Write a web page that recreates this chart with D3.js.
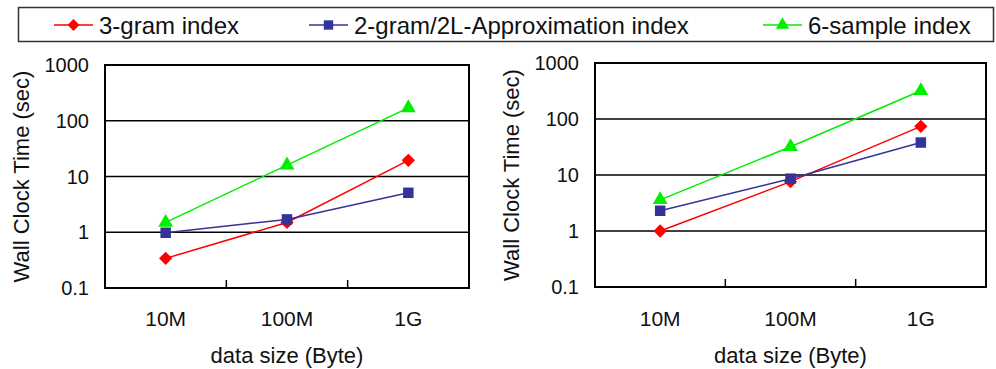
<!DOCTYPE html>
<html>
<head>
<meta charset="utf-8">
<script src="https://cdn.jsdelivr.net/npm/d3@7"></script>
<style>
  body { margin: 0; background: #fff; }
  svg text { font-family: "Liberation Sans", Arial, sans-serif; fill: #111; }
</style>
</head>
<body>
<div id="chart"></div>
<script>
// Data
const sizes = ["10M", "100M", "1G"];
const yTicks = [0.1, 1, 10, 100, 1000];
const seriesNames = ["3-gram index", "2-gram/2L-Approximation index", "6-sample index"];

const leftTrigram = [0.34, 1.5, 19.5];
const leftTwoGram = [0.98, 1.7, 5.1];
const leftSample = [1.5, 16, 170];

const rightTrigram = [1.0, 7.6, 74];
const rightTwoGram = [2.3, 8.6, 38];
const rightSample = [3.6, 32, 320];

const colors = ["#ff0000", "#333399", "#00ee00"];
// diamond is a square turned 45 degrees
const markers = [d3.symbolSquare, d3.symbolSquare, d3.symbolTriangle];
const markerRotate = [45, 0, 0];
const markerSizes = [88, 110, 95];

const svg = d3.select("#chart")
  .append("svg")
  .attr("width", 996)
  .attr("height", 369);

// Legend box
svg.append("rect")
  .attr("x", 18.5).attr("y", 7.5)
  .attr("width", 975).attr("height", 34)
  .attr("fill", "#fff")
  .attr("stroke", "#333")
  .attr("stroke-width", 1.5);

const legendX = [54, 309, 763];
seriesNames.forEach((name, i) => {
  const g = svg.append("g").attr("transform", `translate(${legendX[i]},25)`);
  g.append("line")
    .attr("x1", 0).attr("x2", 39)
    .attr("stroke", colors[i]).attr("stroke-width", 1.5);
  g.append("path")
    .attr("transform", `translate(19.5,0) rotate(${markerRotate[i]})`)
    .attr("d", d3.symbol().type(markers[i]).size(markerSizes[i] * 0.8)())
    .attr("fill", colors[i]);
  g.append("text")
    .attr("x", 45).attr("y", 0)
    .attr("dy", "0.36em")
    .style("font-size", "24px")
    .text(name);
});

function drawPanel(box, series) {
  const x = d3.scaleBand().domain(sizes).range([box.left, box.right]);
  const y = d3.scaleLog().domain([0.1, 1000]).range([box.bottom, box.top]);

  // Horizontal grid lines
  svg.append("g")
    .selectAll("line")
    .data(yTicks.slice(1, -1))
    .join("line")
    .attr("x1", box.left).attr("x2", box.right)
    .attr("y1", (d) => y(d)).attr("y2", (d) => y(d))
    .attr("stroke", "#000").attr("stroke-width", 1.5);

  // Plot frame
  svg.append("rect")
    .attr("x", box.left).attr("y", box.top)
    .attr("width", box.right - box.left)
    .attr("height", box.bottom - box.top)
    .attr("fill", "none")
    .attr("stroke", "#000").attr("stroke-width", 2);

  // Inner ticks between categories
  svg.append("g")
    .selectAll("line")
    .data(sizes.slice(1))
    .join("line")
    .attr("x1", (d) => x(d)).attr("x2", (d) => x(d))
    .attr("y1", box.bottom).attr("y2", box.bottom - 8)
    .attr("stroke", "#000").attr("stroke-width", 1.5);

  // Y tick labels
  svg.append("g")
    .selectAll("text")
    .data(yTicks)
    .join("text")
    .attr("x", box.left - 16)
    .attr("y", (d) => y(d))
    .attr("dy", "0.36em")
    .attr("text-anchor", "end")
    .style("font-size", "20px")
    .text((d) => d3.format("~g")(d));

  // X tick labels
  svg.append("g")
    .selectAll("text")
    .data(sizes)
    .join("text")
    .attr("x", (d) => x(d) + x.bandwidth() / 2)
    .attr("y", 318)
    .attr("dy", "0.36em")
    .attr("text-anchor", "middle")
    .style("font-size", "21px")
    .text((d) => d);

  // Axis titles
  svg.append("text")
    .attr("x", (box.left + box.right) / 2)
    .attr("y", 355)
    .attr("dy", "0.36em")
    .attr("text-anchor", "middle")
    .style("font-size", "22px")
    .text("data size (Byte)");

  svg.append("text")
    .attr("transform", `translate(${box.left - 84},${(box.top + box.bottom) / 2}) rotate(-90)`)
    .attr("dy", "0.36em")
    .attr("text-anchor", "middle")
    .style("font-size", "22px")
    .text("Wall Clock Time (sec)");

  const line = d3.line()
    .x((d, i) => x(sizes[i]) + x.bandwidth() / 2)
    .y((d) => y(d));

  series.forEach((values, s) => {
    svg.append("path")
      .datum(values)
      .attr("fill", "none")
      .attr("stroke", colors[s])
      .attr("stroke-width", 1.5)
      .attr("d", line);
  });

  series.forEach((values, s) => {
    svg.append("g")
      .selectAll("path")
      .data(values)
      .join("path")
      .attr("transform", (d, i) =>
        `translate(${x(sizes[i]) + x.bandwidth() / 2},${y(d)}) rotate(${markerRotate[s]})`)
      .attr("d", d3.symbol().type(markers[s]).size(markerSizes[s])())
      .attr("fill", colors[s]);
  });
}

drawPanel({ left: 105, right: 469, top: 65, bottom: 288 },
  [leftTrigram, leftTwoGram, leftSample]);
drawPanel({ left: 595, right: 986, top: 63, bottom: 287 },
  [rightTrigram, rightTwoGram, rightSample]);
</script>
</body>
</html>
